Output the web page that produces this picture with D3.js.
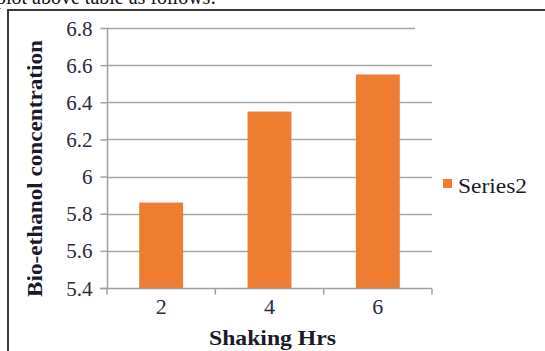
<!DOCTYPE html>
<html>
<head>
<meta charset="utf-8">
<script src="https://cdn.jsdelivr.net/npm/d3@7"></script>
<style>
  html, body { margin: 0; padding: 0; background: #fff; }
  svg { display: block; }
  svg text { font-family: "Liberation Serif", "Times New Roman", Times, serif !important; }
</style>
</head>
<body>
<svg id="chart" width="545" height="351"></svg>
<script>
// Bio-ethanol concentration by shaking time
const categories = ["2", "4", "6"];
const concentration = [5.86, 6.35, 6.55];
const yTicks = [5.4, 5.6, 5.8, 6, 6.2, 6.4, 6.6, 6.8];
const seriesName = "Series2";

const svg = d3.select("#chart");
const plot = { left: 107, right: 432, top: 28, bottom: 288 };

// Caption line above the chart frame (cut off by the page top)
svg.append("text")
  .attr("x", -4).attr("y", 4)
  .attr("font-size", 20)
  .attr("fill", "#111")
  .text("plot above table as follows:");

// Chart frame
svg.append("rect")
  .attr("x", 8).attr("y", 10)
  .attr("width", 560).attr("height", 360)
  .attr("fill", "none")
  .attr("stroke", "#3a3a3a")
  .attr("stroke-width", 2);

const x = d3.scaleBand()
  .domain(categories)
  .range([plot.left, plot.right])
  .paddingInner(0)
  .paddingOuter(0);
const barW = x.bandwidth() * 0.405;

const y = d3.scaleLinear()
  .domain([5.4, 6.8])
  .range([plot.bottom, plot.top]);

// Horizontal gridlines
svg.append("g")
  .selectAll("line")
  .data(yTicks.filter(d => d !== 5.4))
  .join("line")
  .attr("x1", plot.left)
  .attr("x2", d => d === 6.8 ? 415 : plot.right)
  .attr("y1", d => Math.round(y(d)) + 0.5)
  .attr("y2", d => Math.round(y(d)) + 0.5)
  .attr("stroke", "#a6a6a6")
  .attr("stroke-width", 1.5);

// Bars
svg.append("g")
  .selectAll("rect")
  .data(concentration)
  .join("rect")
  .attr("x", (d, i) => x(categories[i]) + x.bandwidth() / 2 - barW / 2)
  .attr("y", d => y(d))
  .attr("width", barW)
  .attr("height", d => y(5.4) - y(d))
  .attr("fill", "#ed7d31");

// Y axis
const yAxis = d3.axisLeft(y)
  .tickValues(yTicks)
  .tickFormat(d => d3.format("")(d))
  .tickSize(7)
  .tickPadding(8);
const gy = svg.append("g")
  .attr("transform", `translate(${plot.left + 0.5},0)`)
  .call(yAxis);
gy.attr("font-family", null);
gy.select(".domain").attr("stroke", "#a0a0a0").attr("stroke-width", 1.5)
  .attr("d", `M0,${plot.top}V${plot.bottom}`);
gy.selectAll(".tick line").attr("stroke", "#a0a0a0").attr("stroke-width", 1.5);
gy.selectAll(".tick text")
  .attr("font-size", 21)
  .attr("fill", "#2a2a3a")
  .attr("dy", "0.34em");

// X axis with boundary ticks
const gx = svg.append("g")
  .attr("transform", `translate(0,${plot.bottom + 0.5})`);
gx.append("line")
  .attr("x1", plot.left - 7).attr("x2", plot.right)
  .attr("stroke", "#a0a0a0").attr("stroke-width", 1.5);
const bounds = categories.map(c => x(c)).concat([plot.right]);
gx.selectAll("line.b")
  .data(bounds)
  .join("line")
  .attr("class", "b")
  .attr("x1", d => d).attr("x2", d => d)
  .attr("y1", 0).attr("y2", 6)
  .attr("stroke", "#a0a0a0").attr("stroke-width", 1.5);
gx.selectAll("text")
  .data(categories)
  .join("text")
  .attr("x", d => x(d) + x.bandwidth() / 2)
  .attr("y", 25)
  .attr("text-anchor", "middle")
  .attr("font-size", 22)
  .attr("fill", "#2a2a3a")
  .text(d => d);

// Axis titles
svg.append("text")
  .attr("transform", `translate(42,${(40 + 297) / 2}) rotate(-90)`)
  .attr("text-anchor", "middle")
  .attr("font-size", 20)
  .attr("font-weight", "bold")
  .attr("fill", "#1a1a2a")
  .attr("textLength", 257)
  .attr("lengthAdjust", "spacingAndGlyphs")
  .text("Bio-ethanol concentration");

svg.append("text")
  .attr("x", (plot.left + plot.right) / 2 + 3)
  .attr("y", 345)
  .attr("text-anchor", "middle")
  .attr("font-size", 20)
  .attr("font-weight", "bold")
  .attr("fill", "#1a1a2a")
  .attr("textLength", 127)
  .attr("lengthAdjust", "spacingAndGlyphs")
  .text("Shaking Hrs");

// Legend
const lg = svg.append("g").attr("transform", "translate(443,179)");
lg.append("rect").attr("width", 9).attr("height", 9).attr("fill", "#ed7d31");
lg.append("text")
  .attr("x", 15).attr("y", 14)
  .attr("font-size", 20)
  .attr("fill", "#1a1a2a")
  .attr("textLength", 69)
  .attr("lengthAdjust", "spacingAndGlyphs")
  .text(seriesName);
</script>
</body>
</html>
